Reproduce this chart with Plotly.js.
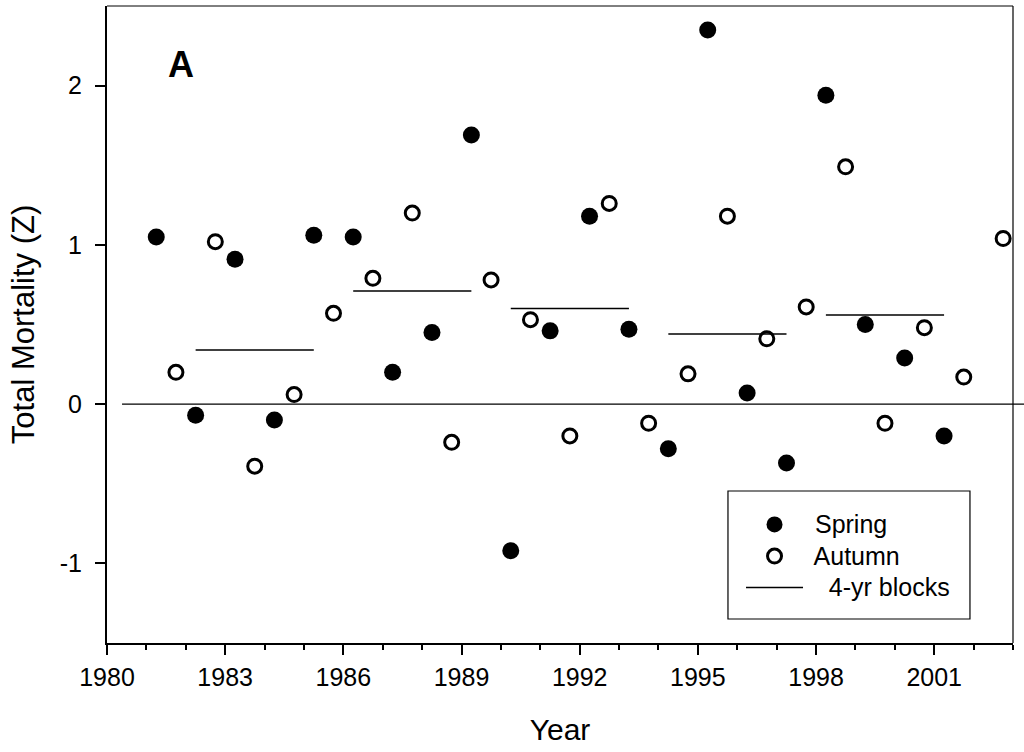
<!DOCTYPE html>
<html>
<head>
<meta charset="utf-8">
<script src="https://cdn.plot.ly/plotly-3.0.1.min.js"></script>
<style>
  html, body { margin: 0; padding: 0; background: #fff; }
  #chart { width: 1024px; height: 752px; }
</style>
</head>
<body>
<div id="chart"></div>
<script>
// ---- data ----
var springX = [1981.25, 1982.25, 1983.25, 1984.25, 1985.25, 1986.25, 1987.25, 1988.25, 1989.25, 1990.25,
               1991.25, 1992.25, 1993.25, 1994.25, 1995.25, 1996.25, 1997.25, 1998.25, 1999.25, 2000.25, 2001.25];
var springZ = [1.05, -0.07, 0.91, -0.10, 1.06, 1.05, 0.20, 0.45, 1.69, -0.92,
               0.46, 1.18, 0.47, -0.28, 2.35, 0.07, -0.37, 1.94, 0.50, 0.29, -0.20];

var autumnX = [1981.75, 1982.75, 1983.75, 1984.75, 1985.75, 1986.75, 1987.75, 1988.75, 1989.75, 1990.75, 1991.75,
               1992.75, 1993.75, 1994.75, 1995.75, 1996.75, 1997.75, 1998.75, 1999.75, 2000.75, 2001.75, 2002.75];
var autumnZ = [0.20, 1.02, -0.39, 0.06, 0.57, 0.79, 1.20, -0.24, 0.78, 0.53, -0.20,
               1.26, -0.12, 0.19, 1.18, 0.41, 0.61, 1.49, -0.12, 0.48, 0.17, 1.04];

var blockStart = [1982.25, 1986.25, 1990.25, 1994.25, 1998.25];
var blockEnd   = [1985.25, 1989.25, 1993.25, 1997.25, 2001.25];
var blockZ     = [0.34, 0.71, 0.60, 0.44, 0.56];

var yTickVals = [-1, 0, 1, 2];
var yTickText = ['-1', '0', '1', '2'];

var seriesNames = ['Spring', 'Autumn', '4-yr blocks'];

// ---- build block segments ----
var bx = [], by = [];
for (var i = 0; i < blockZ.length; i++) {
  bx.push(blockStart[i], blockEnd[i], null);
  by.push(blockZ[i], blockZ[i], null);
}

var FONT = 'Liberation Sans, Arial, Helvetica, sans-serif';
function legendLabel(pad, txt) {
  return '<span style="font-size:25px">' + pad + txt + '</span>';
}

var traces = [
  {
    type: 'scatter', mode: 'markers', name: legendLabel(' ', seriesNames[0]),
    x: springX, y: springZ,
    marker: { symbol: 'circle', size: 17, color: '#000' },
    cliponaxis: false
  },
  {
    type: 'scatter', mode: 'markers', name: legendLabel(' ', seriesNames[1]),
    x: autumnX, y: autumnZ,
    marker: { symbol: 'circle-open', size: 14, color: '#000', line: { width: 3, color: '#000' } },
    cliponaxis: false
  },
  {
    type: 'scatter', mode: 'lines', name: legendLabel('   ', seriesNames[2]),
    x: bx, y: by,
    line: { color: '#000', width: 1.5 },
    connectgaps: false
  }
];

var layout = {
  width: 1024, height: 752,
  paper_bgcolor: '#fff', plot_bgcolor: '#fff',
  margin: { l: 107, r: 11, t: 6, b: 109 },
  font: { family: FONT, size: 25, color: '#000' },
  showlegend: true,
  legend: {
    x: 0.6998, y: 0.2188, xanchor: 'left', yanchor: 'top',
    bgcolor: 'rgba(0,0,0,0)', borderwidth: 0,
    itemwidth: 57, tracegroupgap: 0,
    font: { family: FONT, size: 22, color: '#000' }
  },
  xaxis: {
    range: [1980, 2003], tick0: 1980, dtick: 3, tickmode: 'linear',
    showgrid: false, zeroline: false,
    showline: true, linecolor: '#000', linewidth: 2,
    ticks: 'outside', ticklen: 10, tickwidth: 2, tickcolor: '#000',
    ticklabelstandoff: 1,
    minor: { dtick: 1, tick0: 1980, ticks: 'outside', ticklen: 5, tickwidth: 2, tickcolor: '#000', showgrid: false },
    tickfont: { family: FONT, size: 25, color: '#000' },
    title: { text: 'Year', font: { family: FONT, size: 30, color: '#000' }, standoff: 29 },
    fixedrange: true
  },
  yaxis: {
    range: [-1.5, 2.5],
    tickmode: 'array', tickvals: yTickVals, ticktext: yTickText,
    showgrid: false, zeroline: false,
    showline: true, linecolor: '#000', linewidth: 2,
    ticks: 'outside', ticklen: 10, tickwidth: 2, tickcolor: '#000',
    ticklabelstandoff: 8,
    tickfont: { family: FONT, size: 25, color: '#000' },
    title: { text: 'Total Mortality (Z)', font: { family: FONT, size: 31, color: '#000' }, standoff: 16 },
    fixedrange: true
  },
  shapes: [
    // top/right frame
    { type: 'line', xref: 'paper', yref: 'paper', x0: 0, x1: 1, y0: 1, y1: 1, line: { color: '#000', width: 1 } },
    { type: 'line', xref: 'paper', yref: 'paper', x0: 1, x1: 1, y0: 0, y1: 1, line: { color: '#000', width: 1.2 } },
    // zero reference line
    { type: 'line', xref: 'paper', yref: 'y', x0: 0.0166, x1: 1.013, y0: 0, y1: 0, line: { color: '#000', width: 1.2 } },
    // legend frame
    { type: 'rect', xref: 'paper', yref: 'paper', x0: 0.6854, x1: 0.9525, y0: 0.0377, y1: 0.2386,
      line: { color: '#000', width: 1.2 }, fillcolor: 'rgba(0,0,0,0)' }
  ],
  annotations: [
    { text: '<b>A</b>', xref: 'x', yref: 'y', x: 1981.87, y: 2.13, showarrow: false,
      xanchor: 'center', yanchor: 'middle', font: { family: FONT, size: 36, color: '#000' } }
  ]
};

Plotly.newPlot('chart', traces, layout, { staticPlot: true, displayModeBar: false });
</script>
</body>
</html>
